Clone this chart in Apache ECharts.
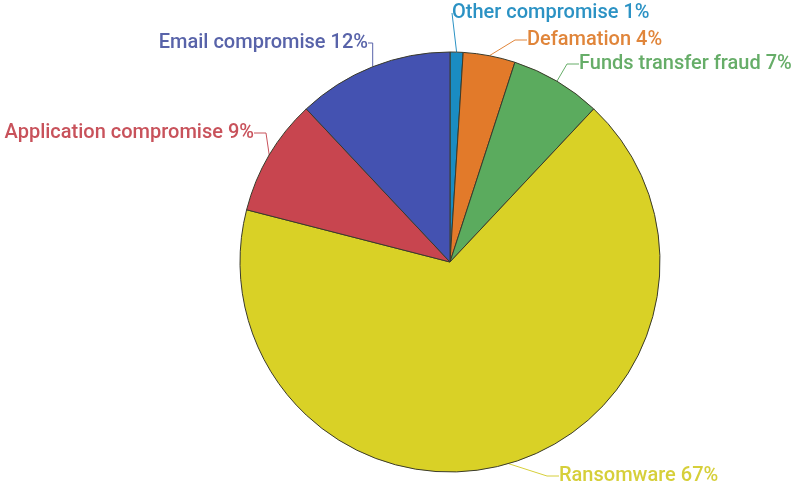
<!DOCTYPE html>
<html>
<head>
<meta charset="utf-8">
<script src="https://cdn.jsdelivr.net/npm/echarts@6/dist/echarts.min.js"></script>
<style>html,body{margin:0;padding:0;background:#fff}#c{width:794px;height:488px}</style>
</head>
<body>
<div id="c"></div>
<script>
const categories = ["Other compromise", "Defamation", "Funds transfer fraud", "Ransomware", "Application compromise", "Email compromise"];
const values = [1, 4, 7, 67, 9, 12];
const colors = ["#1a8cc2", "#e27a2a", "#5bab5e", "#d9d126", "#c8454f", "#4452b1"];
const textColors = ["#2b92c4", "#e0853a", "#66ad68", "#d6cf3a", "#c8525b", "#5863a9"];

// label anchor placement (style only)
const labelPlace = [
  { x: 452, y: 13, align: 'left' },
  { x: 527, y: 40, align: 'left' },
  { x: 579, y: 64, align: 'left' },
  { x: 559, y: 476, align: 'left' },
  { x: 254, y: 133, align: 'right' },
  { x: 368, y: 43, align: 'right' }
];

const chart = echarts.init(document.getElementById('c'));
chart.setOption({
  animation: false,
  series: [{
    type: 'pie',
    center: [450, 262],
    radius: [0, 210],
    startAngle: 90,
    clockwise: true,
    avoidLabelOverlap: false,
    data: categories.map((n, i) => ({
      name: n, value: values[i],
      itemStyle: { color: colors[i] },
      label: { color: textColors[i] },
      labelLine: { lineStyle: { color: textColors[i] } }
    })),
    itemStyle: { borderColor: '#3a3a2a', borderWidth: 1 },
    label: {
      show: true,
      formatter: '{b} {c}%',
      fontFamily: 'Roboto',
      fontSize: 20,
      fontWeight: 500
    },
    labelLine: { show: true, length: 10, length2: 12, lineStyle: { width: 1 } },
    labelLayout: function (p) {
      const pl = labelPlace[p.dataIndex];
      return { x: pl.x, y: pl.y, align: pl.align, verticalAlign: 'middle' };
    },
    emphasis: { disabled: true }
  }]
});
</script>
</body>
</html>
